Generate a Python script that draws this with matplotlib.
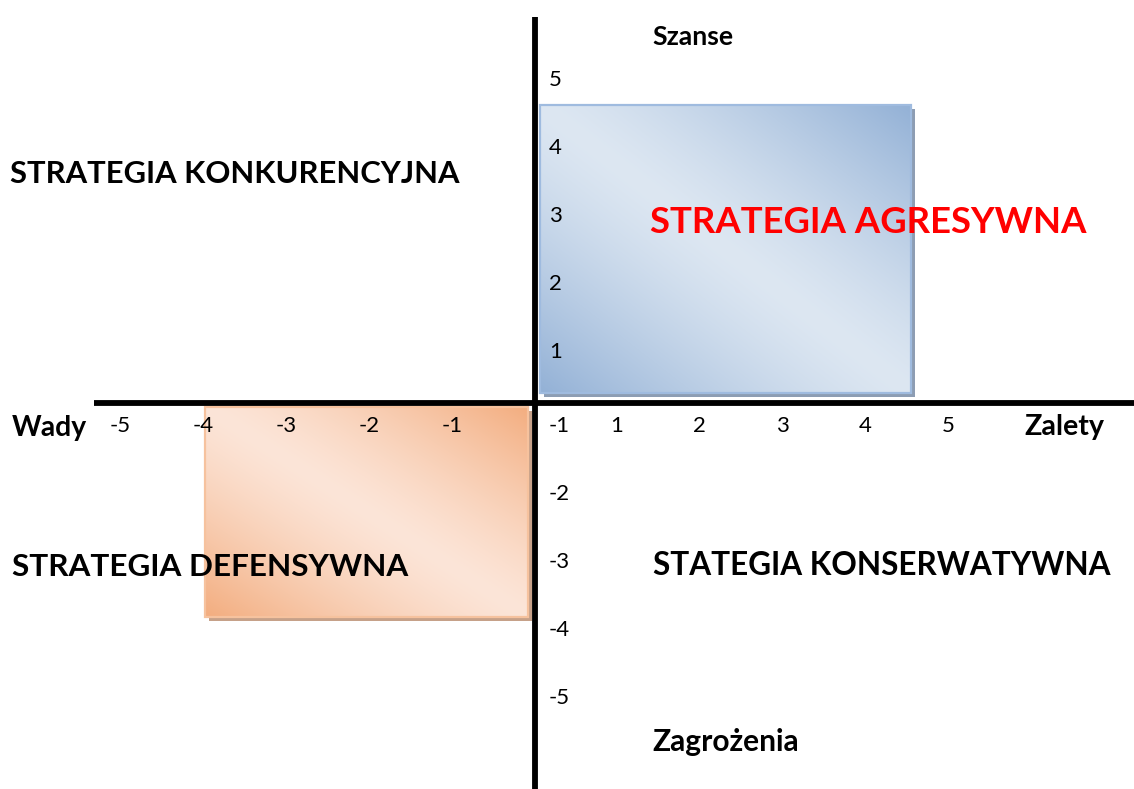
import numpy as np
import matplotlib
matplotlib.use("Agg")
import matplotlib.pyplot as plt
from matplotlib.patches import Rectangle
from matplotlib.colors import to_rgb
import matplotlib.transforms as mtransforms

plt.rcParams['font.family'] = ['Lato', 'DejaVu Sans']

# ---------------- data ----------------
x_ticks_neg = [-5, -4, -3, -2, -1]
x_ticks_pos = [1, 2, 3, 4, 5]
y_ticks_pos = [5, 4, 3, 2, 1]
y_ticks_neg = [-1, -2, -3, -4, -5]

# strategy rectangles: (x0, x1, y0, y1)
rect_aggressive = (0.06, 4.53, 0.15, 4.38)
rect_defensive = (-3.98, -0.08, -3.15, -0.06)

axis_labels = ["Szanse", "Zagrożenia", "Wady", "Zalety"]
quadrant_labels = ["STRATEGIA KONKURENCYJNA", "STRATEGIA AGRESYWNA",
                   "STRATEGIA DEFENSYWNA", "STATEGIA KONSERWATYWNA"]

# ---------------- layout ----------------
W, H, DPI = 1134, 789, 100
XMIN, XMAX = -6.446, 7.217
YMIN, YMAX = -5.676, 5.926

fig = plt.figure(figsize=(W / DPI, H / DPI), dpi=DPI)
ax = fig.add_axes([0, 0, 1, 1])
ax.set_xlim(XMIN, XMAX)
ax.set_ylim(YMIN, YMAX)
ax.axis('off')


def gradient_rect(r, dark, light, border, shadow):
    x0, x1, y0, y1 = r
    n = 200
    u = np.linspace(0, 1, n)
    uu, vv = np.meshgrid(u, u)
    t = np.abs((uu + vv) - 1.0)  # 0 on anti-diagonal, 1 in corners
    t = np.clip(t, 0, 1) ** 1.3
    d = np.array(to_rgb(dark))
    l = np.array(to_rgb(light))
    img = l[None, None, :] + (d - l)[None, None, :] * t[..., None]
    sh_tr = mtransforms.offset_copy(ax.transData, fig=fig, x=4, y=-4, units='dots')
    ax.add_patch(Rectangle((x0, y0), x1 - x0, y1 - y0, transform=sh_tr,
                           facecolor=shadow, edgecolor='none', zorder=1))
    ax.imshow(img, extent=[x0, x1, y0, y1], origin='lower', aspect='auto',
              interpolation='bilinear', zorder=2)
    ax.add_patch(Rectangle((x0, y0), x1 - x0, y1 - y0, facecolor='none',
                           edgecolor=border, lw=1.6, zorder=3))


gradient_rect(rect_aggressive, '#93b1d6', '#dde7f2', '#9fbbdf', '#8d9db3')
gradient_rect(rect_defensive, '#f3ad7f', '#fce5d8', '#f6c29e', '#c6a189')
ax.set_xlim(XMIN, XMAX)
ax.set_ylim(YMIN, YMAX)

# axes lines
ax.plot([0, 0], [YMIN, 5.68], color='black', lw=4.2, solid_capstyle='butt', zorder=5)
ax.plot([-5.31, XMAX], [0, 0], color='black', lw=4.2, solid_capstyle='butt', zorder=5)

# tick labels
TICK_FS = 16
for v in x_ticks_neg:
    ax.text(v, -0.426, str(v), ha='center', va='baseline', fontsize=TICK_FS, zorder=6)
for v in x_ticks_pos:
    ax.text(v - 0.02, -0.426, str(v), ha='center', va='baseline', fontsize=TICK_FS, zorder=6)
for v in y_ticks_pos:
    ax.text(0.17, v - 0.34, str(v), ha='left', va='baseline', fontsize=TICK_FS, zorder=6)
for v in y_ticks_neg:
    ax.text(0.17, v + 0.57, str(v), ha='left', va='baseline', fontsize=TICK_FS, zorder=6)

# texts: (label, x, baseline y, target width px, color)
specs = [
    (axis_labels[0], 1.41, 5.265, 81, 'black'),
    (axis_labels[1], 1.41, -5.12, 146, 'black'),
    (axis_labels[2], -6.31, -0.485, 75, 'black'),
    (axis_labels[3], 5.90, -0.47, 80, 'black'),
    (quadrant_labels[0], -6.325, 3.235, 450, 'black'),
    (quadrant_labels[1], 1.386, 2.50, 437, '#ff0000'),
    (quadrant_labels[2], -6.30, -2.544, 396, 'black'),
    (quadrant_labels[3], 1.42, -2.53, 457, 'black'),
]
texts = []
for s, x, y, w, c in specs:
    t = ax.text(x, y, s, ha='left', va='baseline', fontsize=20,
                fontweight='bold', color=c, zorder=6)
    texts.append((t, w))

fig.canvas.draw()
r = fig.canvas.get_renderer()
for t, w in texts:
    bw = t.get_window_extent(renderer=r).width
    t.set_fontsize(t.get_fontsize() * w / bw)

fig.savefig('out.png', dpi=DPI)
